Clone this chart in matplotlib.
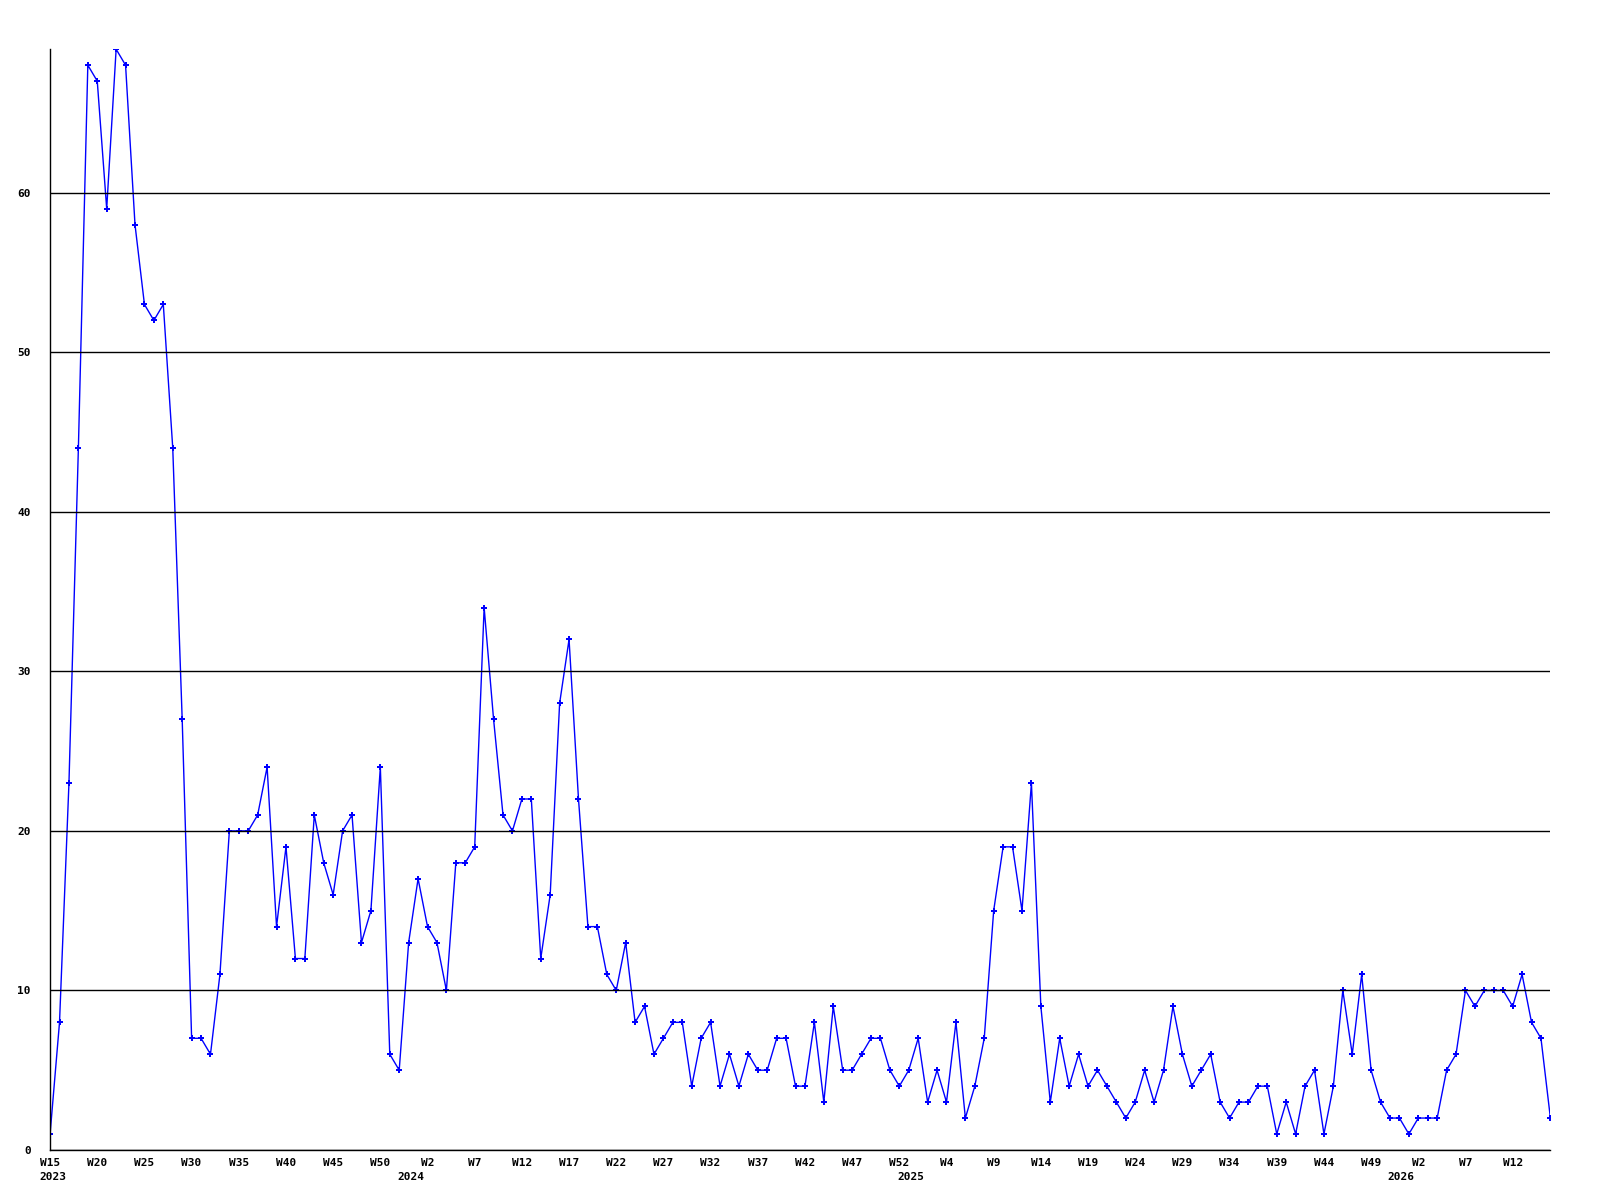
import numpy as np
import matplotlib.pyplot as plt
from matplotlib.transforms import blended_transform_factory, offset_copy

# weekly counts, 2023 W15 .. 2026 W16
counts = [1, 8, 23, 44, 68, 67, 59, 69, 68, 58,
          53, 52, 53, 44, 27, 7, 7, 6, 11, 20,
          20, 20, 21, 24, 14, 19, 12, 12, 21, 18,
          16, 20, 21, 13, 15, 24, 6, 5, 13, 17,
          14, 13, 10, 18, 18, 19, 34, 27, 21, 20,
          22, 22, 12, 16, 28, 32, 22, 14, 14, 11,
          10, 13, 8, 9, 6, 7, 8, 8, 4, 7,
          8, 4, 6, 4, 6, 5, 5, 7, 7, 4,
          4, 8, 3, 9, 5, 5, 6, 7, 7, 5,
          4, 5, 7, 3, 5, 3, 8, 2, 4, 7,
          15, 19, 19, 15, 23, 9, 3, 7, 4, 6,
          4, 5, 4, 3, 2, 3, 5, 3, 5, 9,
          6, 4, 5, 6, 3, 2, 3, 3, 4, 4,
          1, 3, 1, 4, 5, 1, 4, 10, 6, 11,
          5, 3, 2, 2, 1, 2, 2, 2, 5, 6,
          10, 9, 10, 10, 10, 9, 11, 8, 7, 2]

week_labels = ['W15', 'W20', 'W25', 'W30', 'W35', 'W40', 'W45', 'W50',
               'W2', 'W7', 'W12', 'W17', 'W22', 'W27', 'W32', 'W37',
               'W42', 'W47', 'W52', 'W4', 'W9', 'W14', 'W19', 'W24',
               'W29', 'W34', 'W39', 'W44', 'W49', 'W2', 'W7', 'W12']
years = ['2023', '2024', '2025', '2026']
year_start = [0, 39, 92, 144]  # index of first week of each year

x = np.arange(len(counts))

fig = plt.figure(figsize=(16, 12), dpi=100)
ax = fig.add_axes([0.0313, 0.0417, 0.9377, 0.9173])

ax.plot(x, counts, color='#0000ff', lw=1, marker='P', markersize=4,
        markeredgewidth=0, zorder=2)

ax.set_xlim(0, len(counts) - 1)
ax.set_ylim(0, 69)

ax.set_yticks(np.arange(0, 61, 10))
ax.set_xticks(np.arange(0, len(counts), 5))
ax.set_xticklabels(week_labels)

ax.set_axisbelow(False)
ax.yaxis.grid(True, color='black', lw=1)

for s in ['top', 'right']:
    ax.spines[s].set_visible(False)
for s in ['left', 'bottom']:
    ax.spines[s].set_linewidth(1)

font = dict(family='DejaVu Sans Mono', weight='bold', size=8)
ax.tick_params(axis='x', length=0, pad=6)
ax.tick_params(axis='y', length=0, pad=14)
for lab in ax.get_xticklabels() + ax.get_yticklabels():
    lab.set_fontproperties(font)

# year labels just before the first week of each year
trans = offset_copy(blended_transform_factory(ax.transData, ax.transAxes),
                    fig=fig, x=0, y=-16, units='points')
for yr, i in zip(years, year_start):
    ax.text(max(i - 0.8, 0.3), 0, yr, transform=trans, ha='center', va='top', **font)

fig.savefig('out.png', dpi=100, facecolor='white')
